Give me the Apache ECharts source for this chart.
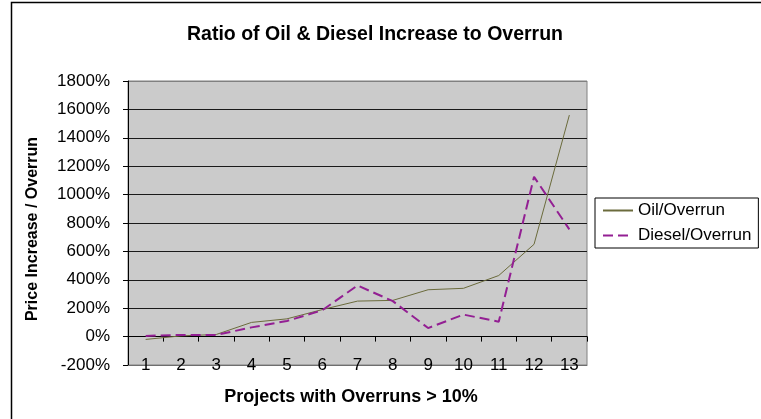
<!DOCTYPE html>
<html>
<head>
<meta charset="utf-8">
<script src="https://cdn.jsdelivr.net/npm/echarts@6/dist/echarts.min.js"></script>
<style>
  html, body { margin: 0; padding: 0; background: #ffffff; }
  #chart { width: 761px; height: 419px; }
</style>
</head>
<body>
<div id="chart"></div>
<script>
const categories = ['1', '2', '3', '4', '5', '6', '7', '8', '9', '10', '11', '12', '13'];
const oilOverrun = [-20, 5, 15, 100, 125, 190, 250, 255, 330, 340, 430, 650, 1560];
const dieselOverrun = [5, 12, 12, 65, 110, 185, 360, 250, 60, 155, 105, 1125, 755];
const yMin = -200;
const yMax = 1800;
const yStep = 200;

const FONT = "'Liberation Sans', Arial, sans-serif";
const gridLineColors = ['#6e6e6e', '#1a1a1a', '#1a1a1a', '#1a1a1a', '#1a1a1a', '#1a1a1a',
  '#1a1a1a', '#1a1a1a', '#1a1a1a', '#1a1a1a', '#808080'];

const chart = echarts.init(document.getElementById('chart'), null, { renderer: 'canvas' });
chart.setOption({
  animation: false,
  backgroundColor: '#ffffff',
  textStyle: { fontFamily: FONT },
  title: {
    text: 'Ratio of Oil & Diesel Increase to Overrun',
    left: 370, top: 20, textAlign: 'center',
    textStyle: { fontFamily: FONT, fontSize: 19.5, fontWeight: 'bold', color: '#000' }
  },
  graphic: [{
    type: 'polyline', silent: true, z: -1,
    shape: { points: [[11.5, 430], [11.5, 2.5], [761, 2.5]] },
    style: { fill: null, stroke: '#000', lineWidth: 1.5 }
  }],
  legend: {
    orient: 'vertical', left: 595, top: 198,
    padding: [4, 7, 4, 7], itemGap: 8, itemWidth: 30, itemHeight: 14,
    borderColor: '#000', borderWidth: 1, backgroundColor: '#fff',
    itemStyle: { color: 'rgba(0,0,0,0)', borderWidth: 0, opacity: 0 },
    textStyle: { fontFamily: FONT, fontSize: 17, color: '#000' },
    data: ['Oil/Overrun', 'Diesel/Overrun']
  },
  grid: {
    left: 128, top: 81, width: 459, height: 284,
    show: true, backgroundColor: '#cbcbcb', borderColor: '#808080', borderWidth: 1,
    containLabel: false
  },
  xAxis: [{
    type: 'category', data: categories, position: 'bottom', boundaryGap: true,
    axisLine: { show: true, onZero: false, lineStyle: { color: '#6e6e6e', width: 1 } },
    axisTick: { show: false },
    axisLabel: { margin: -8, fontSize: 17, color: '#000', fontFamily: FONT },
    splitLine: { show: false },
    name: 'Projects with Overruns > 10%', nameLocation: 'middle', nameGap: 23,
    nameTextStyle: { fontFamily: FONT, fontSize: 18, fontWeight: 'bold', color: '#000', padding: [0, 13, 0, 0] }
  }, {
    type: 'category', data: categories, position: 'bottom', boundaryGap: true,
    axisLine: { show: true, onZero: true, onZeroAxisIndex: 0, lineStyle: { color: '#000', width: 1 } },
    axisTick: { show: true, length: 5, inside: false, lineStyle: { color: '#000' } },
    axisLabel: { show: false },
    splitLine: { show: false }
  }],
  yAxis: {
    type: 'value', min: yMin, max: yMax, interval: yStep,
    axisLine: { show: true, lineStyle: { color: '#000', width: 1 } },
    axisTick: { show: true, length: 5, lineStyle: { color: '#000' } },
    axisLabel: { formatter: function (v) { return v + '%'; }, margin: 18, fontSize: 17, color: '#000', fontFamily: FONT },
    splitLine: { show: true, lineStyle: { color: gridLineColors, width: 1 } },
    name: 'Price Increase / Overrun', nameLocation: 'middle', nameGap: 87, nameRotate: 90,
    nameTextStyle: { fontFamily: FONT, fontSize: 16, fontWeight: 'bold', color: '#000', padding: [0, 12, 0, 0] }
  },
  series: [{
    name: 'Oil/Overrun', type: 'line', data: oilOverrun,
    xAxisIndex: 0, yAxisIndex: 0, symbol: 'none', smooth: false,
    lineStyle: { color: '#6b6b3c', width: 1 },
    itemStyle: { color: '#6b6b3c' }
  }, {
    name: 'Diesel/Overrun', type: 'line', data: dieselOverrun,
    xAxisIndex: 0, yAxisIndex: 0, symbol: 'none', smooth: false,
    lineStyle: { color: '#931f93', width: 2, type: [10, 5] },
    itemStyle: { color: '#931f93' }
  }]
});
</script>
</body>
</html>
